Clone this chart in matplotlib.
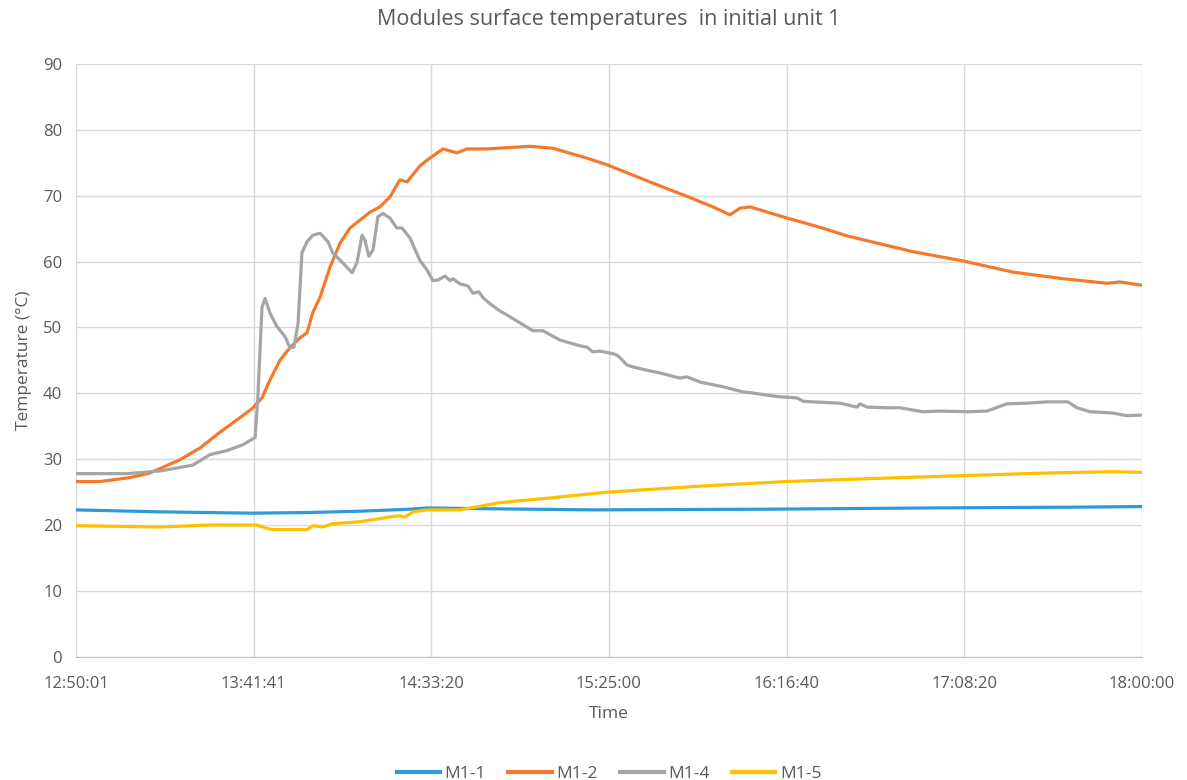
import matplotlib
matplotlib.use('Agg')
import matplotlib.pyplot as plt

# time axis in minutes after 12:50:01, last tick 18:00:00
t_end = 309.98
tick_labels = ['12:50:01', '13:41:41', '14:33:20', '15:25:00', '16:16:40', '17:08:20', '18:00:00']

# M1-1
t_m11 = [0, 24.4, 51.3, 67.8, 82.6, 97.1, 102.1, 115, 150, 200, 250, 287, 310]
v_m11 = [22.3, 22.0, 21.8, 21.9, 22.1, 22.4, 22.6, 22.5, 22.3, 22.4, 22.6, 22.7, 22.8]

# M1-2
t_m12 = [0, 7.0, 15.7, 21.5, 30.2, 36.1, 41.9, 47.7, 51.5, 54.1, 56.4, 59.3, 62.2, 65.1,
         67.2, 68.9, 71.0, 73.9, 76.8, 79.7, 82.6, 85.5, 88.4, 91.3, 93.3, 94.2, 96.3,
         100.0, 102.1, 106.7, 110.8, 113.7, 119.5, 132.0, 138.7, 148.6, 154.4, 167.8,
         177.7, 185.2, 190.2, 193.1, 196.0, 206.8, 216.4, 224.2, 243.4, 257.9, 272.5,
         287.0, 299.8, 303.6, 310.0]
v_m12 = [26.6, 26.6, 27.2, 27.9, 29.9, 31.7, 34.1, 36.3, 37.8, 39.3, 42.0, 45.0, 46.9, 48.4,
         49.2, 52.3, 54.6, 59.2, 62.8, 65.1, 66.3, 67.5, 68.3, 69.8, 71.6, 72.4, 72.1,
         74.5, 75.4, 77.1, 76.5, 77.1, 77.1, 77.5, 77.2, 75.7, 74.7, 71.9,
         69.9, 68.3, 67.1, 68.1, 68.3, 66.6, 65.2, 63.9, 61.5, 60.1, 58.4,
         57.4, 56.7, 56.9, 56.4]

# M1-4
t_m14 = [0, 14.8, 24.4, 34.0, 39.0, 43.9, 48.6, 52.1, 52.9, 54.1, 55.0, 56.4, 58.5, 60.8,
         62.2, 63.4, 64.6, 65.7, 67.2, 68.9, 71.0, 73.3, 74.7, 77.6, 80.3, 81.7, 83.2,
         84.0, 85.2, 86.4, 87.8, 89.3, 91.3, 93.3, 94.8, 97.1, 100.0, 102.1, 103.8,
         105.3, 107.3, 108.8, 109.6, 111.7, 114.0, 115.4, 117.2, 118.4, 120.4, 123.3,
         125.3, 129.1, 132.9, 135.8, 140.7, 146.6, 148.6, 150.3, 152.4, 156.2, 157.3,
         158.2, 160.2, 162.0, 166.9, 169.8, 175.6, 177.7, 181.5, 188.1, 194.0, 196.0,
         203.9, 209.7, 211.4, 214.3, 222.2, 227.1, 228.0, 230.0, 235.8, 239.6, 246.3,
         251.2, 259.1, 264.9, 270.7, 276.5, 282.4, 288.5, 291.1, 294.9, 301.6, 305.6, 310.0]
v_m14 = [27.8, 27.8, 28.2, 29.1, 30.7, 31.3, 32.2, 33.3, 39.5, 53.1, 54.4, 52.2, 50.1, 48.6,
         46.9, 47.0, 50.7, 61.3, 63.0, 64.0, 64.3, 63.0, 61.3, 59.8, 58.3, 59.8, 64.0,
         63.3, 60.8, 61.8, 66.8, 67.3, 66.6, 65.1, 65.1, 63.6, 60.2, 58.7, 57.1,
         57.2, 57.8, 57.1, 57.4, 56.6, 56.3, 55.2, 55.4, 54.5, 53.6, 52.5,
         51.9, 50.7, 49.5, 49.5, 48.1, 47.2, 47.0, 46.3, 46.4, 46.0, 45.8,
         45.4, 44.3, 44.0, 43.4, 43.1, 42.3, 42.5, 41.7, 41.0, 40.2, 40.1,
         39.5, 39.3, 38.8, 38.7, 38.5, 37.9, 38.4, 37.9, 37.8, 37.8, 37.2,
         37.3, 37.2, 37.3, 38.4, 38.5, 38.7, 38.7, 37.8, 37.2, 37.0, 36.6, 36.7]

# M1-5
t_m15 = [0, 24.4, 39.0, 52.6, 55.5, 57.3, 67.2, 68.9, 71.8, 74.7, 82.6, 92.2, 94.2, 95.7,
         98.0, 102.1, 111.7, 123.3, 137.8, 154.7, 181.5, 206.5, 233.8, 258.0, 282.3,
         301.6, 310.0]
v_m15 = [19.9, 19.7, 20.0, 20.0, 19.5, 19.3, 19.3, 19.9, 19.7, 20.2, 20.5, 21.3, 21.4, 21.2,
         22.0, 22.3, 22.3, 23.4, 24.1, 25.0, 25.9, 26.6, 27.1, 27.5, 27.9,
         28.1, 28.0]

series = [
    ('M1-1', t_m11, v_m11, '#2E9BD8'),
    ('M1-2', t_m12, v_m12, '#F4792B'),
    ('M1-4', t_m14, v_m14, '#A5A5A5'),
    ('M1-5', t_m15, v_m15, '#FFC000'),
]

txt = '#595959'
plt.rcParams['font.family'] = ['Open Sans', 'DejaVu Sans']

fig = plt.figure(figsize=(11.87, 7.8), dpi=100)
ax = fig.add_axes([0.064, 0.158, 0.898, 0.76])

for name, t, v, c in series:
    ax.plot(t, v, color=c, lw=2.3, label=name, solid_joinstyle='round')

ticks = [i * t_end / (len(tick_labels) - 1) for i in range(len(tick_labels))]
ax.set_xticks(ticks)
ax.set_xticklabels(tick_labels)
ax.set_xlim(0, t_end)
ax.set_ylim(0, 90)
ax.set_yticks(range(0, 91, 10))

ax.grid(True, color='#D9D9D9', lw=1)
ax.set_axisbelow(True)
for s in ['top', 'right', 'left']:
    ax.spines[s].set_visible(False)
ax.spines['bottom'].set_color('#BFBFBF')
ax.tick_params(length=0, colors=txt, labelsize=12, pad=14)
ax.tick_params(axis='y', pad=10)

ax.set_title('Modules surface temperatures  in initial unit 1', color=txt, fontsize=15.5, pad=28)
ax.set_xlabel('Time', color=txt, fontsize=12.5, labelpad=10)
ax.set_ylabel('Temperature (°C)', color=txt, fontsize=12.5, labelpad=8)

leg = ax.legend(loc='upper center', bbox_to_anchor=(0.5, -0.157), ncol=4, frameon=False,
                fontsize=12.5, labelcolor=txt, handlelength=2.5, columnspacing=1.3,
                handletextpad=0.25)
for h in leg.get_lines():
    h.set_linewidth(3)

fig.savefig('out.png', dpi=100)
